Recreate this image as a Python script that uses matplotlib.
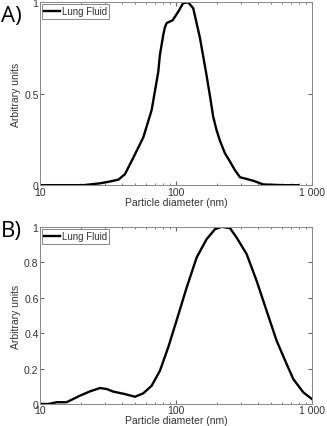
import matplotlib
matplotlib.use("Agg")
import matplotlib.pyplot as plt
from matplotlib.ticker import FixedLocator, NullFormatter

plt.rcParams['font.family'] = ['Liberation Sans', 'DejaVu Sans']

# Panel A - lung fluid size distribution
dA = [10, 20.9, 27.6, 32.7, 37.7, 42.2, 48.6, 57.5, 66.3, 74.2, 76.2, 80.7, 83,
      85.4, 94.5, 104, 113, 123, 134, 150, 159, 168, 178, 188, 199, 211, 229,
      250, 272, 296, 331, 371, 439, 615, 794]
yA = [0, 0, 0.01, 0.02, 0.03, 0.06, 0.15, 0.26, 0.41, 0.62, 0.71, 0.82, 0.862,
      0.885, 0.90, 0.947, 0.994, 0.998, 0.966, 0.806, 0.70, 0.599, 0.486, 0.373,
      0.30, 0.241, 0.175, 0.128, 0.081, 0.043, 0.034, 0.024, 0.004, 0, 0]

# Panel B
dB = [10, 11.5, 13.3, 15.7, 19.7, 23.3, 27.6, 30.9, 34.6, 42.2, 50, 57.5,
      66.3, 76.3, 87.8, 101, 120, 142, 168, 194, 217, 250, 279, 331, 392, 464,
      550, 651, 729, 863, 1000]
yB = [0, 0, 0.01, 0.01, 0.047, 0.071, 0.09, 0.085, 0.07, 0.056, 0.041, 0.06,
      0.103, 0.188, 0.32, 0.47, 0.658, 0.827, 0.93, 0.987, 1.0, 0.992, 0.94,
      0.846, 0.695, 0.526, 0.357, 0.226, 0.141, 0.066, 0.028]

yticksA = [0, 0.5, 1]
yticksB = [0, 0.2, 0.4, 0.6, 0.8, 1]
xticks = [10, 100, 1000]
xlabels = ['10', '100', '1 000']

txt = '#333333'
fig = plt.figure(figsize=(3.27, 4.27), dpi=100)
axA = fig.add_axes([0.122, 0.564, 0.832, 0.429])
axB = fig.add_axes([0.122, 0.0515, 0.832, 0.415])

for ax, d, y, yt, tag, ty in [(axA, dA, yA, yticksA, 'A)', 0.985),
                              (axB, dB, yB, yticksB, 'B)', 0.483)]:
    ax.plot(d, y, color='black', lw=1.7, label='Lung Fluid')
    ax.set_xscale('log')
    ax.set_xlim(10, 1000)
    ax.set_ylim(0, 1)
    ax.set_xticks(xticks)
    ax.set_xticklabels(xlabels)
    ax.xaxis.set_minor_locator(FixedLocator([m * 10 ** e for e in (1, 2) for m in range(2, 10)]))
    ax.xaxis.set_minor_formatter(NullFormatter())
    ax.set_yticks(yt)
    ax.set_yticklabels(['%g' % v for v in yt])
    ax.tick_params(which='both', direction='in', top=True, right=True,
                   labelsize=7.5, labelcolor=txt, color='#666666', pad=1)
    ax.tick_params(which='major', length=3)
    ax.tick_params(which='minor', length=1.5)
    for s in ax.spines.values():
        s.set_color('#888888')
        s.set_linewidth(0.7)
    ax.set_xlabel('Particle diameter (nm)', fontsize=7.5, color=txt, labelpad=0)
    ax.set_ylabel('Arbitrary units', fontsize=7.5, color=txt, labelpad=2)
    leg = ax.legend(loc='upper left', fontsize=7, handlelength=1.6, handletextpad=0.2,
                    borderaxespad=0.2, borderpad=0.25, fancybox=False, framealpha=1)
    leg.get_frame().set_edgecolor('#888888')
    leg.get_frame().set_linewidth(0.7)
    for t in leg.get_texts():
        t.set_color(txt)
    fig.text(0.003, ty, tag, fontsize=16, family='Open Sans', ha='left', va='top')

fig.savefig('out.png', dpi=100)
